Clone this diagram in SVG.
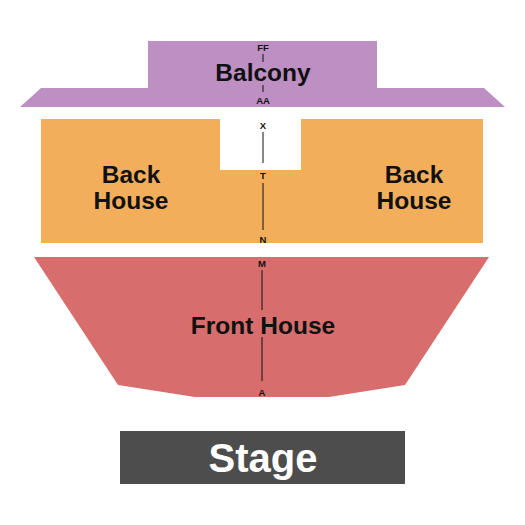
<svg xmlns="http://www.w3.org/2000/svg" width="525" height="525" viewBox="0 0 525 525">
<style>
.lbl{font-family:"Liberation Sans",Arial,sans-serif;font-weight:bold;text-anchor:middle;fill:#111}
.big{font-size:24.5px}
.row{font-size:9.5px}
.ln{stroke:#111;stroke-width:1}
</style>
<rect width="525" height="525" fill="#fff"/>
<g id="balcony">
<rect x="148" y="41" width="229" height="50" fill="#BE8FC2"/>
<polygon points="20,107 41,88 484,88 505,107" fill="#BE8FC2"/>
<text class="lbl big" x="263" y="81">Balcony</text>
<text class="lbl row" x="263" y="51">FF</text>
<line class="ln" x1="263" y1="54" x2="263" y2="62"/>
<line class="ln" x1="263" y1="85" x2="263" y2="92"/>
<text class="lbl row" x="263" y="104">AA</text>
</g>
<g id="back-house">
<polygon points="41,119 220,119 220,170 301,170 301,119 483,119 483,243 41,243" fill="#F3AE5C"/>
<text class="lbl big" x="131" y="183">Back</text>
<text class="lbl big" x="131" y="209">House</text>
<text class="lbl big" x="414" y="183">Back</text>
<text class="lbl big" x="414" y="209">House</text>
<text class="lbl row" x="263" y="129">X</text>
<line class="ln" x1="263" y1="132" x2="263" y2="163"/>
<text class="lbl row" x="263" y="179">T</text>
<line class="ln" x1="263" y1="183" x2="263" y2="230"/>
<text class="lbl row" x="263" y="243">N</text>
</g>
<g id="front-house">
<polygon points="34,257 489,257 405,385 329,397 195,397 118,385" fill="#D76E6D"/>
<text class="lbl big" x="263" y="334">Front House</text>
<text class="lbl row" x="262" y="267">M</text>
<line class="ln" x1="262" y1="270" x2="262" y2="310"/>
<line class="ln" x1="262" y1="337" x2="262" y2="381"/>
<text class="lbl row" x="262" y="396">A</text>
</g>
<g id="stage">
<rect x="120" y="431" width="285" height="53" fill="#4D4D4D"/>
<text class="lbl" x="263" y="472" font-size="40" style="fill:#fff">Stage</text>
</g>
</svg>
